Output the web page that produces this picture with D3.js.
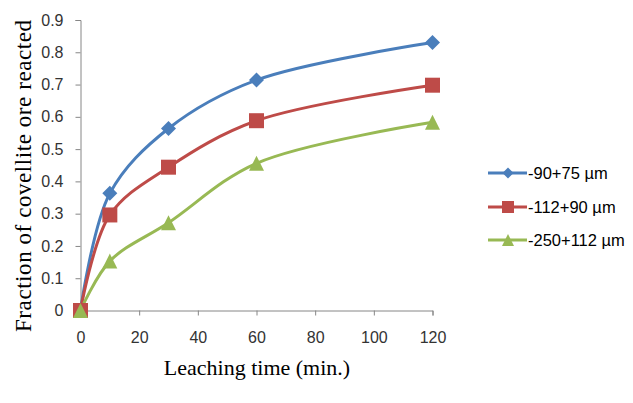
<!DOCTYPE html>
<html><head><meta charset="utf-8">
<script src="https://cdn.jsdelivr.net/npm/d3@7"></script>
<style>body{margin:0;background:#fff}svg{display:block}</style>
</head><body>
<svg id="c" width="633" height="403"></svg>
<script>
const times = [0, 10, 30, 60, 120];
const seriesNames = ["-90+75 µm", "-112+90 µm", "-250+112 µm"];
const blueVals = [0, 0.363, 0.564, 0.714, 0.830];
const redVals = [0, 0.296, 0.444, 0.588, 0.698];
const greenVals = [0, 0.153, 0.272, 0.456, 0.583];
const xTicks = [0, 20, 40, 60, 80, 100, 120];
const yTicks = [0, 0.1, 0.2, 0.3, 0.4, 0.5, 0.6, 0.7, 0.8, 0.9];

const colors = ["#4A7EBB", "#BE4B48", "#98B954"];
const allVals = [blueVals, redVals, greenVals];

// marker shapes (centred on bounding box), r = half-size
const shapes = [
  r => `M0,${-r}L${r},0L0,${r}L${-r},0Z`,
  r => `M${-r},${-r}H${r}V${r}H${-r}Z`,
  r => `M0,${-r}L${r},${r}L${-r},${r}Z`
];
const markerR = [7.5, 7.5, 7.5];
const legendR = [5.5, 6, 6];

const svg = d3.select("#c");
const x = d3.scaleLinear().domain([0, 120]).range([80.5, 432.5]);
const y = d3.scaleLinear().domain([0, 0.9]).range([310.5, 20]);

const tickFont = "'Liberation Sans', Arial, sans-serif";
const xAxis = svg.append("g").attr("transform", "translate(0,310.5)")
  .call(d3.axisBottom(x).tickValues(xTicks).tickSize(5).tickPadding(16).tickFormat(d3.format("d")));
const yAxis = svg.append("g").attr("transform", "translate(80.5,0)")
  .call(d3.axisLeft(y).tickValues(yTicks).tickSize(5).tickPadding(12).tickFormat(d => d === 0 ? "0" : d3.format(".1f")(d)));
[xAxis, yAxis].forEach(g => {
  g.selectAll("path,line").attr("stroke", "#868686").attr("stroke-width", 1);
  g.selectAll("text").attr("fill", "#333").style("font-family", tickFont).style("font-size", "16px");
});

// lines
const line = d3.line().x((d, i) => x(times[i])).y(d => y(d)).curve(d3.curveCatmullRom.alpha(0.5));
allVals.forEach((vals, k) => {
  svg.append("path").datum(vals).attr("d", line)
    .attr("fill", "none").attr("stroke", colors[k]).attr("stroke-width", 3);
});
allVals.forEach((vals, k) => {
  svg.append("g").selectAll("path").data(vals).join("path")
    .attr("transform", (d, i) => `translate(${x(times[i])},${y(d)})`)
    .attr("d", shapes[k](markerR[k]))
    .attr("fill", colors[k]);
});

// axis titles
const serif = "'Liberation Serif', 'Times New Roman', serif";
svg.append("text").attr("x", 257).attr("y", 375).attr("text-anchor", "middle")
  .style("font-family", serif).style("font-size", "22px")
  .attr("fill", "#000").text("Leaching time (min.)");
svg.append("text").attr("transform", "translate(31,176) rotate(-90)").attr("text-anchor", "middle")
  .style("font-family", serif).style("font-size", "23px")
  .attr("textLength", 312).attr("lengthAdjust", "spacing")
  .attr("fill", "#000").text("Fraction of covellite ore reacted");

// legend
const legY = [173, 207, 240];
seriesNames.forEach((name, k) => {
  const g = svg.append("g");
  g.append("line").attr("x1", 488).attr("x2", 527).attr("y1", legY[k]).attr("y2", legY[k])
    .attr("stroke", colors[k]).attr("stroke-width", 3);
  g.append("path").attr("transform", `translate(508,${legY[k]})`)
    .attr("d", shapes[k](legendR[k])).attr("fill", colors[k]);
  g.append("text").attr("x", 528).attr("y", legY[k] + 6)
    .style("font-family", tickFont).style("font-size", "16.5px")
    .attr("fill", "#000").text(name);
});
</script>
</body></html>
